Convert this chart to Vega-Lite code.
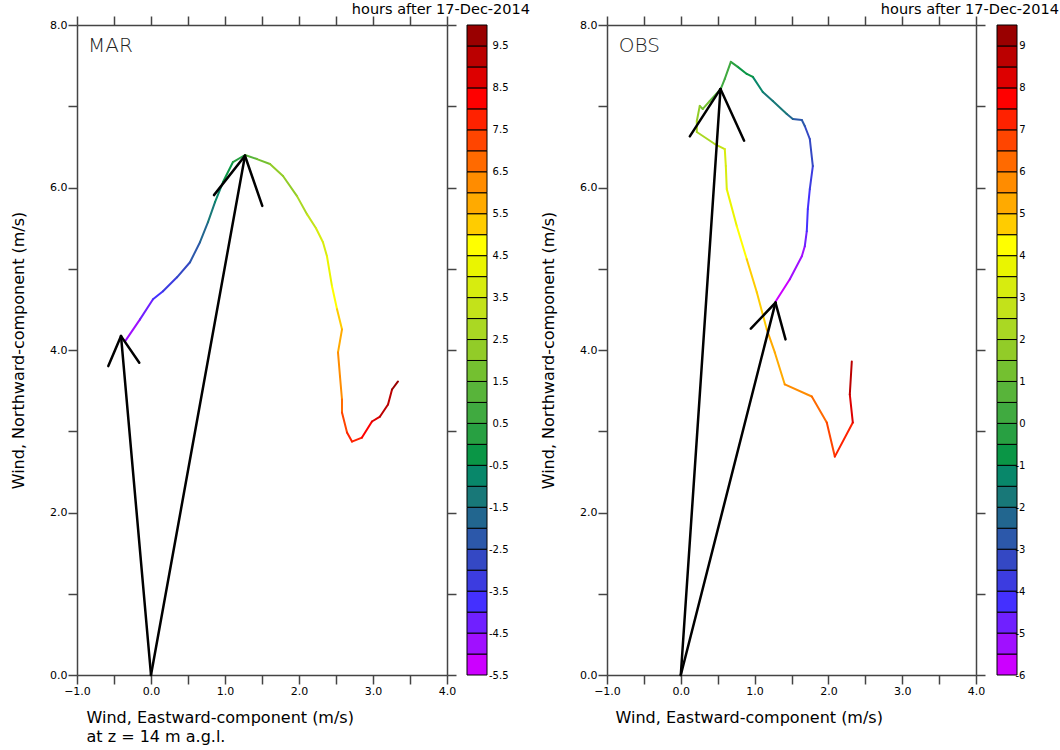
{
  "$schema": "https://vega.github.io/schema/vega-lite/v6.json",
  "background": "white",
  "padding": {"left": 10, "top": 2, "right": 5, "bottom": 5},
  "config": {
    "font": "DejaVu Sans",
    "view": {"stroke": null},
    "axis": {
      "domainColor": "#444", "tickColor": "#444", "domainWidth": 1.5, "tickWidth": 1.5, "tickSize": 9,
      "labelFont": "DejaVu Sans", "labelFontSize": 11, "labelColor": "#000", "labelPadding": 1,
      "grid": false, "titleFont": "DejaVu Sans", "titleFontWeight": "normal", "titleFontSize": 16, "titleColor": "#000",
      "labelOverlap": false, "labelFlush": false, "labelBound": false
    },
    "title": {"font": "DejaVu Sans", "fontWeight": "normal", "fontSize": 14.5, "color": "#000"}
  },
  "datasets": {
    "mar_traj": [
      {"t": -4.9, "u": -0.351, "v": 4.106},
      {"t": -4.3, "u": -0.149, "v": 4.377},
      {"t": -3.8, "u": 0.027, "v": 4.624},
      {"t": -3.4, "u": 0.162, "v": 4.723},
      {"t": -2.9, "u": 0.351, "v": 4.895},
      {"t": -2.4, "u": 0.527, "v": 5.080},
      {"t": -1.9, "u": 0.662, "v": 5.327},
      {"t": -1.3, "u": 0.770, "v": 5.573},
      {"t": -0.8, "u": 0.865, "v": 5.820},
      {"t": -0.3, "u": 0.973, "v": 6.067},
      {"t": 0.3, "u": 1.108, "v": 6.313},
      {"t": 1.0, "u": 1.270, "v": 6.400},
      {"t": 1.6, "u": 1.432, "v": 6.350},
      {"t": 2.0, "u": 1.608, "v": 6.289},
      {"t": 2.4, "u": 1.784, "v": 6.141},
      {"t": 2.8, "u": 1.973, "v": 5.894},
      {"t": 3.2, "u": 2.108, "v": 5.672},
      {"t": 3.6, "u": 2.230, "v": 5.499},
      {"t": 3.9, "u": 2.324, "v": 5.327},
      {"t": 4.3, "u": 2.378, "v": 5.154},
      {"t": 4.7, "u": 2.446, "v": 4.784},
      {"t": 5.2, "u": 2.514, "v": 4.501},
      {"t": 5.7, "u": 2.581, "v": 4.254},
      {"t": 6.1, "u": 2.527, "v": 3.970},
      {"t": 6.4, "u": 2.554, "v": 3.674},
      {"t": 6.8, "u": 2.581, "v": 3.391},
      {"t": 7.2, "u": 2.581, "v": 3.231},
      {"t": 7.6, "u": 2.649, "v": 2.984},
      {"t": 7.9, "u": 2.716, "v": 2.873},
      {"t": 8.2, "u": 2.851, "v": 2.922},
      {"t": 8.6, "u": 2.986, "v": 3.120},
      {"t": 9.0, "u": 3.095, "v": 3.181},
      {"t": 9.4, "u": 3.203, "v": 3.329},
      {"t": 9.7, "u": 3.257, "v": 3.514},
      {"t": 10.0, "u": 3.338, "v": 3.613}
    ],
    "obs_traj": [
      {"t": -5.8, "u": 1.287, "v": 4.599},
      {"t": -5.5, "u": 1.477, "v": 4.871},
      {"t": -5.2, "u": 1.640, "v": 5.154},
      {"t": -4.8, "u": 1.680, "v": 5.277},
      {"t": -4.4, "u": 1.707, "v": 5.462},
      {"t": -4.1, "u": 1.721, "v": 5.734},
      {"t": -3.8, "u": 1.748, "v": 5.980},
      {"t": -3.5, "u": 1.789, "v": 6.264},
      {"t": -3.2, "u": 1.748, "v": 6.597},
      {"t": -2.9, "u": 1.680, "v": 6.757},
      {"t": -2.6, "u": 1.640, "v": 6.831},
      {"t": -2.3, "u": 1.518, "v": 6.843},
      {"t": -2.0, "u": 1.436, "v": 6.905},
      {"t": -1.6, "u": 1.247, "v": 7.065},
      {"t": -1.2, "u": 1.111, "v": 7.176},
      {"t": -0.9, "u": 0.976, "v": 7.361},
      {"t": -0.6, "u": 0.894, "v": 7.398},
      {"t": -0.3, "u": 0.772, "v": 7.485},
      {"t": 0.0, "u": 0.678, "v": 7.546},
      {"t": 0.4, "u": 0.596, "v": 7.337},
      {"t": 0.7, "u": 0.542, "v": 7.213},
      {"t": 1.0, "u": 0.393, "v": 7.065},
      {"t": 1.4, "u": 0.298, "v": 6.967},
      {"t": 1.8, "u": 0.257, "v": 7.004},
      {"t": 2.1, "u": 0.217, "v": 6.819},
      {"t": 2.4, "u": 0.217, "v": 6.683},
      {"t": 2.7, "u": 0.461, "v": 6.535},
      {"t": 3.0, "u": 0.596, "v": 6.473},
      {"t": 3.3, "u": 0.610, "v": 6.264},
      {"t": 3.7, "u": 0.623, "v": 5.980},
      {"t": 4.1, "u": 0.759, "v": 5.524},
      {"t": 4.5, "u": 0.894, "v": 5.117},
      {"t": 4.8, "u": 1.030, "v": 4.710},
      {"t": 5.1, "u": 1.165, "v": 4.254},
      {"t": 5.4, "u": 1.274, "v": 3.970},
      {"t": 5.8, "u": 1.409, "v": 3.576},
      {"t": 6.3, "u": 1.775, "v": 3.428},
      {"t": 6.8, "u": 1.978, "v": 3.107},
      {"t": 7.4, "u": 2.087, "v": 2.688},
      {"t": 8.1, "u": 2.331, "v": 3.107},
      {"t": 8.6, "u": 2.290, "v": 3.453},
      {"t": 9.2, "u": 2.317, "v": 3.859}
    ],
    "mar_arrows": [
      {"x0": 0, "y0": 0, "x1": -0.405, "y1": 4.171},
      {"x0": -0.405, "y0": 4.171, "x1": -0.577, "y1": 3.802},
      {"x0": -0.405, "y0": 4.171, "x1": -0.158, "y1": 3.843},
      {"x0": 0, "y0": 0, "x1": 1.27, "y1": 6.391},
      {"x0": 1.27, "y0": 6.391, "x1": 0.851, "y1": 5.906},
      {"x0": 1.27, "y0": 6.391, "x1": 1.504, "y1": 5.774}
    ],
    "obs_arrows": [
      {"x0": 0, "y0": 0, "x1": 0.538, "y1": 7.213},
      {"x0": 0.538, "y0": 7.213, "x1": 0.122, "y1": 6.63},
      {"x0": 0.538, "y0": 7.213, "x1": 0.858, "y1": 6.576},
      {"x0": 0, "y0": 0, "x1": 1.283, "y1": 4.583},
      {"x0": 1.283, "y0": 4.583, "x1": 0.949, "y1": 4.263},
      {"x0": 1.283, "y0": 4.583, "x1": 1.419, "y1": 4.131}
    ],
    "cbar_mar": [
      {"lo": -5.5, "hi": -5.0}, {"lo": -5.0, "hi": -4.5}, {"lo": -4.5, "hi": -4.0}, {"lo": -4.0, "hi": -3.5},
      {"lo": -3.5, "hi": -3.0}, {"lo": -3.0, "hi": -2.5}, {"lo": -2.5, "hi": -2.0}, {"lo": -2.0, "hi": -1.5},
      {"lo": -1.5, "hi": -1.0}, {"lo": -1.0, "hi": -0.5}, {"lo": -0.5, "hi": 0.0}, {"lo": 0.0, "hi": 0.5},
      {"lo": 0.5, "hi": 1.0}, {"lo": 1.0, "hi": 1.5}, {"lo": 1.5, "hi": 2.0}, {"lo": 2.0, "hi": 2.5},
      {"lo": 2.5, "hi": 3.0}, {"lo": 3.0, "hi": 3.5}, {"lo": 3.5, "hi": 4.0}, {"lo": 4.0, "hi": 4.5},
      {"lo": 4.5, "hi": 5.0}, {"lo": 5.0, "hi": 5.5}, {"lo": 5.5, "hi": 6.0}, {"lo": 6.0, "hi": 6.5},
      {"lo": 6.5, "hi": 7.0}, {"lo": 7.0, "hi": 7.5}, {"lo": 7.5, "hi": 8.0}, {"lo": 8.0, "hi": 8.5},
      {"lo": 8.5, "hi": 9.0}, {"lo": 9.0, "hi": 9.5}, {"lo": 9.5, "hi": 10.0}
    ],
    "cbar_obs": [
      {"lo": -6.0, "hi": -5.5}, {"lo": -5.5, "hi": -5.0}, {"lo": -5.0, "hi": -4.5}, {"lo": -4.5, "hi": -4.0},
      {"lo": -4.0, "hi": -3.5}, {"lo": -3.5, "hi": -3.0}, {"lo": -3.0, "hi": -2.5}, {"lo": -2.5, "hi": -2.0},
      {"lo": -2.0, "hi": -1.5}, {"lo": -1.5, "hi": -1.0}, {"lo": -1.0, "hi": -0.5}, {"lo": -0.5, "hi": 0.0},
      {"lo": 0.0, "hi": 0.5}, {"lo": 0.5, "hi": 1.0}, {"lo": 1.0, "hi": 1.5}, {"lo": 1.5, "hi": 2.0},
      {"lo": 2.0, "hi": 2.5}, {"lo": 2.5, "hi": 3.0}, {"lo": 3.0, "hi": 3.5}, {"lo": 3.5, "hi": 4.0},
      {"lo": 4.0, "hi": 4.5}, {"lo": 4.5, "hi": 5.0}, {"lo": 5.0, "hi": 5.5}, {"lo": 5.5, "hi": 6.0},
      {"lo": 6.0, "hi": 6.5}, {"lo": 6.5, "hi": 7.0}, {"lo": 7.0, "hi": 7.5}, {"lo": 7.5, "hi": 8.0},
      {"lo": 8.0, "hi": 8.5}, {"lo": 8.5, "hi": 9.0}, {"lo": 9.0, "hi": 9.5}
    ]
  },
  "bounds": "flush",
  "spacing": 530,
  "resolve": {"scale": {"x": "independent", "y": "independent", "color": "independent"}},
  "hconcat": [
    {
      "bounds": "flush",
      "spacing": 20,
      "resolve": {"scale": {"x": "independent", "y": "independent", "color": "independent"}},
      "hconcat": [
        {
          "width": 370,
          "height": 650,
          "resolve": {"axis": {"x": "independent", "y": "independent"}},
          "layer": [
            {
              "data": {"name": "mar_traj"},
              "transform": [
                {"window": [{"op": "lead", "field": "u", "as": "u2"}, {"op": "lead", "field": "v", "as": "v2"}], "sort": [{"field": "t", "order": "ascending"}]},
                {"filter": "isValid(datum.u2)"}
              ],
              "mark": {"type": "rule", "strokeWidth": 2, "strokeCap": "round"},
              "encoding": {
                "x": {"field": "u", "type": "quantitative", "scale": {"domain": [-1, 4], "nice": false, "zero": false},
                  "axis": {"orient": "bottom", "values": [-1, -0.5, 0, 0.5, 1, 1.5, 2, 2.5, 3, 3.5, 4],
                    "labelExpr": "datum.value % 1 == 0 ? format(datum.value, '.1f') : ''",
                    "title": ["Wind, Eastward-component (m/s)", "at z = 14 m a.g.l."],
                    "titleAnchor": "start", "titleAlign": "left", "titleX": 9, "titleY": 34, "titleBaseline": "top", "titleLineHeight": 19}},
                "y": {"field": "v", "type": "quantitative", "scale": {"domain": [0, 8], "nice": false, "zero": false},
                  "axis": {"orient": "left", "values": [0, 1, 2, 3, 4, 5, 6, 7, 8],
                    "labelExpr": "datum.value % 2 == 0 ? format(datum.value, '.1f') : ''",
                    "title": "Wind, Northward-component (m/s)", "titlePadding": 23}},
                "x2": {"field": "u2"},
                "y2": {"field": "v2"},
                "color": {"field": "t", "type": "quantitative", "legend": null,
                  "scale": {"type": "threshold",
                    "domain": [-5.0, -4.5, -4.0, -3.5, -3.0, -2.5, -2.0, -1.5, -1.0, -0.5, 0, 0.5, 1.0, 1.5, 2.0, 2.5, 3.0, 3.5, 4.0, 4.5, 5.0, 5.5, 6.0, 6.5, 7.0, 7.5, 8.0, 8.5, 9.0, 9.5],
                    "range": ["#cc00ff", "#a010ff", "#7020ff", "#4430ff", "#3c3ce0", "#3448c4", "#2c58aa", "#22668f", "#187878", "#08876a", "#0a9646", "#28a042", "#40aa40", "#58b43a", "#74c030", "#92cc28", "#aad823", "#c3e21a", "#d7ec0f", "#eaf500", "#ffff00", "#ffcc00", "#ffaa00", "#ff8c00", "#ff6a00", "#ff4500", "#ff2200", "#ff0000", "#dd0000", "#bb0000", "#990000"]}}
              }
            },
            {
              "data": {"name": "mar_arrows"},
              "mark": {"type": "rule", "strokeWidth": 2.5, "color": "#000", "strokeCap": "round"},
              "encoding": {
                "x": {"field": "x0", "type": "quantitative", "axis": {"orient": "top", "values": [-1, -0.5, 0, 0.5, 1, 1.5, 2, 2.5, 3, 3.5, 4], "labels": false, "title": null}},
                "y": {"field": "y0", "type": "quantitative", "axis": {"orient": "right", "values": [0, 1, 2, 3, 4, 5, 6, 7, 8], "labels": false, "title": null}},
                "x2": {"field": "x1"},
                "y2": {"field": "y1"}
              }
            },
            {
              "data": {"values": [{"name": "MAR"}]},
              "mark": {"type": "text", "align": "left", "baseline": "middle", "fontSize": 20, "fontWeight": 300, "color": "#222"},
              "encoding": {
                "text": {"field": "name"},
                "x": {"datum": -0.85, "type": "quantitative", "axis": null},
                "y": {"datum": 7.74, "type": "quantitative", "axis": null}
              }
            }
          ]
        },
        {
          "width": 20,
          "height": 650,
          "data": {"name": "cbar_mar"},
          "title": {"text": "hours after 17-Dec-2014", "anchor": "end", "frame": "group", "dx": 43, "baseline": "alphabetic", "offset": -4},
          "mark": {"type": "rect", "stroke": "#000", "strokeWidth": 1},
          "encoding": {
            "y": {"field": "lo", "type": "quantitative", "scale": {"domain": [-5.5, 10], "nice": false, "zero": false},
              "axis": {"orient": "right", "values": [-5.5, -4.5, -3.5, -2.5, -1.5, -0.5, 0.5, 1.5, 2.5, 3.5, 4.5, 5.5, 6.5, 7.5, 8.5, 9.5],
                "labelExpr": "datum.value < 0 ? '-' + format(-datum.value, '.1f') : format(datum.value, '.1f')",
                "domain": false, "ticks": false, "labelAlign": "right", "labelPadding": 21, "labelFontSize": 10, "title": null, "zindex": 1}},
            "y2": {"field": "hi"},
            "color": {"field": "lo", "type": "quantitative", "legend": null,
              "scale": {"type": "threshold",
                "domain": [-5.0, -4.5, -4.0, -3.5, -3.0, -2.5, -2.0, -1.5, -1.0, -0.5, 0, 0.5, 1.0, 1.5, 2.0, 2.5, 3.0, 3.5, 4.0, 4.5, 5.0, 5.5, 6.0, 6.5, 7.0, 7.5, 8.0, 8.5, 9.0, 9.5],
                "range": ["#cc00ff", "#a010ff", "#7020ff", "#4430ff", "#3c3ce0", "#3448c4", "#2c58aa", "#22668f", "#187878", "#08876a", "#0a9646", "#28a042", "#40aa40", "#58b43a", "#74c030", "#92cc28", "#aad823", "#c3e21a", "#d7ec0f", "#eaf500", "#ffff00", "#ffcc00", "#ffaa00", "#ff8c00", "#ff6a00", "#ff4500", "#ff2200", "#ff0000", "#dd0000", "#bb0000", "#990000"]}}
          }
        }
      ]
    },
    {
      "bounds": "flush",
      "spacing": 21,
      "resolve": {"scale": {"x": "independent", "y": "independent", "color": "independent"}},
      "hconcat": [
        {
          "width": 369,
          "height": 650,
          "resolve": {"axis": {"x": "independent", "y": "independent"}},
          "layer": [
            {
              "data": {"name": "obs_traj"},
              "transform": [
                {"window": [{"op": "lead", "field": "u", "as": "u2"}, {"op": "lead", "field": "v", "as": "v2"}], "sort": [{"field": "t", "order": "ascending"}]},
                {"filter": "isValid(datum.u2)"}
              ],
              "mark": {"type": "rule", "strokeWidth": 2, "strokeCap": "round"},
              "encoding": {
                "x": {"field": "u", "type": "quantitative", "scale": {"domain": [-1, 4], "nice": false, "zero": false},
                  "axis": {"orient": "bottom", "values": [-1, -0.5, 0, 0.5, 1, 1.5, 2, 2.5, 3, 3.5, 4],
                    "labelExpr": "datum.value % 1 == 0 ? format(datum.value, '.1f') : ''",
                    "title": "Wind, Eastward-component (m/s)",
                    "titleAnchor": "start", "titleAlign": "left", "titleX": 8, "titleY": 34, "titleBaseline": "top"}},
                "y": {"field": "v", "type": "quantitative", "scale": {"domain": [0, 8], "nice": false, "zero": false},
                  "axis": {"orient": "left", "values": [0, 1, 2, 3, 4, 5, 6, 7, 8],
                    "labelExpr": "datum.value % 2 == 0 ? format(datum.value, '.1f') : ''",
                    "title": "Wind, Northward-component (m/s)", "titlePadding": 23}},
                "x2": {"field": "u2"},
                "y2": {"field": "v2"},
                "color": {"field": "t", "type": "quantitative", "legend": null,
                  "scale": {"type": "threshold",
                    "domain": [-5.5, -5.0, -4.5, -4.0, -3.5, -3.0, -2.5, -2.0, -1.5, -1.0, -0.5, 0, 0.5, 1.0, 1.5, 2.0, 2.5, 3.0, 3.5, 4.0, 4.5, 5.0, 5.5, 6.0, 6.5, 7.0, 7.5, 8.0, 8.5, 9.0],
                    "range": ["#cc00ff", "#a010ff", "#7020ff", "#4430ff", "#3c3ce0", "#3448c4", "#2c58aa", "#22668f", "#187878", "#08876a", "#0a9646", "#28a042", "#40aa40", "#58b43a", "#74c030", "#92cc28", "#aad823", "#c3e21a", "#d7ec0f", "#eaf500", "#ffff00", "#ffcc00", "#ffaa00", "#ff8c00", "#ff6a00", "#ff4500", "#ff2200", "#ff0000", "#dd0000", "#bb0000", "#990000"]}}
              }
            },
            {
              "data": {"name": "obs_arrows"},
              "mark": {"type": "rule", "strokeWidth": 2.5, "color": "#000", "strokeCap": "round"},
              "encoding": {
                "x": {"field": "x0", "type": "quantitative", "axis": {"orient": "top", "values": [-1, -0.5, 0, 0.5, 1, 1.5, 2, 2.5, 3, 3.5, 4], "labels": false, "title": null}},
                "y": {"field": "y0", "type": "quantitative", "axis": {"orient": "right", "values": [0, 1, 2, 3, 4, 5, 6, 7, 8], "labels": false, "title": null}},
                "x2": {"field": "x1"},
                "y2": {"field": "y1"}
              }
            },
            {
              "data": {"values": [{"name": "OBS"}]},
              "mark": {"type": "text", "align": "left", "baseline": "middle", "fontSize": 20, "fontWeight": 300, "color": "#222"},
              "encoding": {
                "text": {"field": "name"},
                "x": {"datum": -0.84, "type": "quantitative", "axis": null},
                "y": {"datum": 7.74, "type": "quantitative", "axis": null}
              }
            }
          ]
        },
        {
          "width": 20,
          "height": 650,
          "data": {"name": "cbar_obs"},
          "title": {"text": "hours after 17-Dec-2014", "anchor": "end", "frame": "group", "dx": 42, "baseline": "alphabetic", "offset": -4},
          "mark": {"type": "rect", "stroke": "#000", "strokeWidth": 1},
          "encoding": {
            "y": {"field": "lo", "type": "quantitative", "scale": {"domain": [-6, 9.5], "nice": false, "zero": false},
              "axis": {"orient": "right", "values": [-6, -5, -4, -3, -2, -1, 0, 1, 2, 3, 4, 5, 6, 7, 8, 9],
                "labelExpr": "datum.value < 0 ? '-' + format(-datum.value, 'd') : format(datum.value, 'd')",
                "domain": false, "ticks": false, "labelAlign": "right", "labelPadding": 8, "labelFontSize": 10, "title": null, "zindex": 1}},
            "y2": {"field": "hi"},
            "color": {"field": "lo", "type": "quantitative", "legend": null,
              "scale": {"type": "threshold",
                "domain": [-5.5, -5.0, -4.5, -4.0, -3.5, -3.0, -2.5, -2.0, -1.5, -1.0, -0.5, 0, 0.5, 1.0, 1.5, 2.0, 2.5, 3.0, 3.5, 4.0, 4.5, 5.0, 5.5, 6.0, 6.5, 7.0, 7.5, 8.0, 8.5, 9.0],
                "range": ["#cc00ff", "#a010ff", "#7020ff", "#4430ff", "#3c3ce0", "#3448c4", "#2c58aa", "#22668f", "#187878", "#08876a", "#0a9646", "#28a042", "#40aa40", "#58b43a", "#74c030", "#92cc28", "#aad823", "#c3e21a", "#d7ec0f", "#eaf500", "#ffff00", "#ffcc00", "#ffaa00", "#ff8c00", "#ff6a00", "#ff4500", "#ff2200", "#ff0000", "#dd0000", "#bb0000", "#990000"]}}
          }
        }
      ]
    }
  ]
}
